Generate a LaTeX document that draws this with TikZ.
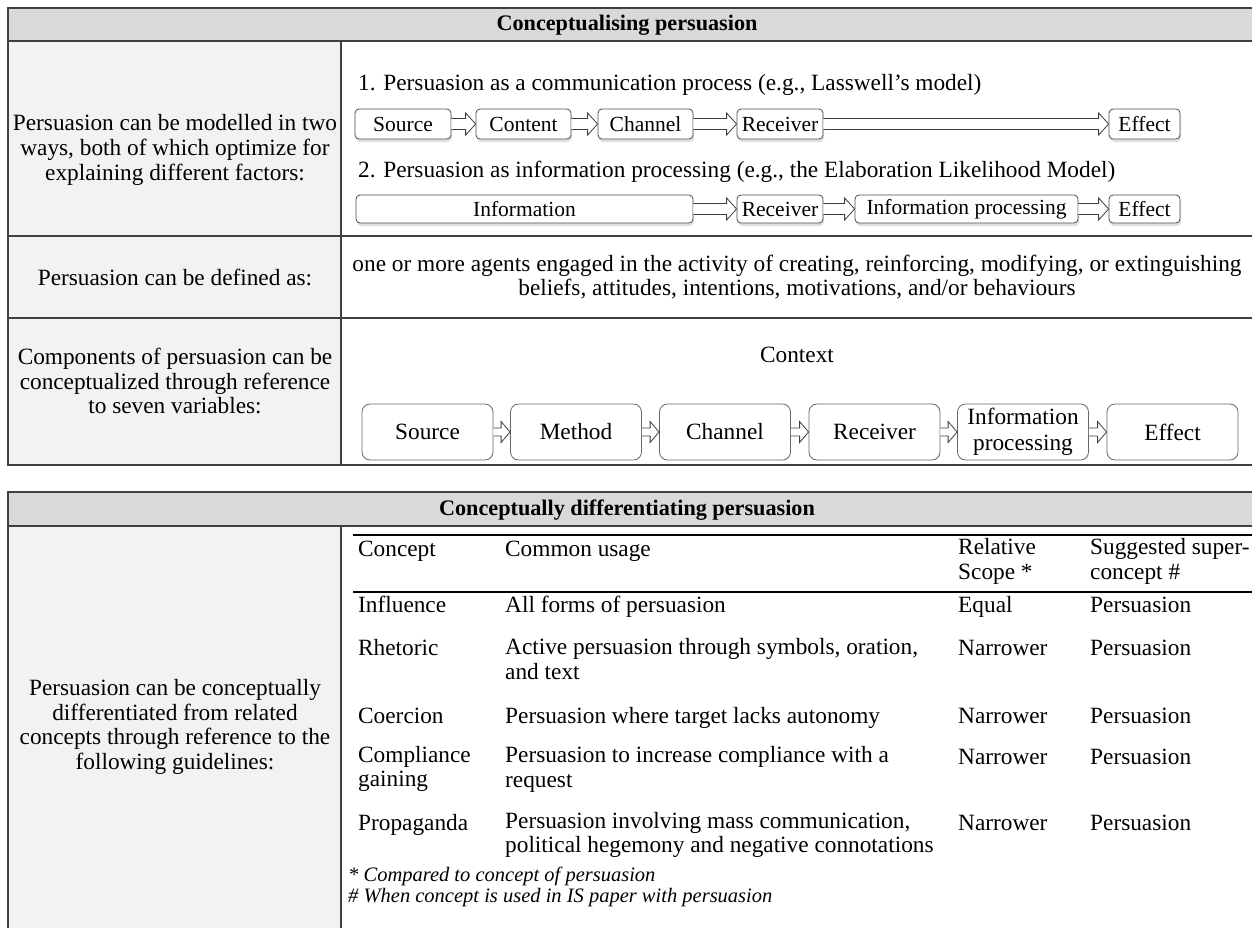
\documentclass[tikz,border=0pt]{standalone}
\usepackage{fontspec}
\setmainfont{Liberation Serif}
\usetikzlibrary{calc,shadows}
\definecolor{hdr}{HTML}{D9D9D9}
\definecolor{leftc}{HTML}{F2F2F2}
\definecolor{frm}{HTML}{404040}
\begin{document}
\begin{tikzpicture}[x=1pt,y=-1pt,
  font=\fontsize{23.3}{24.8}\selectfont,
  frame/.style={draw=frm, line width=1.3pt},
  txt/.style={inner sep=0pt, align=center},
  ltxt/.style={inner sep=0pt, anchor=west, align=left},
  one/.style={ltxt, text height=16pt, text depth=5pt},
  hd/.style={inner sep=0pt, font=\fontsize{22.2}{24.8}\selectfont\bfseries},
  lasbox/.style={draw=black!70, line width=0.8pt, rounded corners=4pt, fill=white, inner sep=0pt,
    minimum height=30pt, font=\fontsize{21.5}{24}\selectfont,
    drop shadow={shadow xshift=1pt, shadow yshift=-3pt, opacity=0.25}},
  varbox/.style={draw=black!60, line width=0.8pt, rounded corners=8pt, fill=white, inner sep=0pt,
    minimum height=56pt, minimum width=131pt, align=center},
  blockarrow/.style n args={3}{draw=black!75, line width=0.8pt, fill=white,
    to path={let \p1=(\tikztostart), \p2=(\tikztotarget) in
      (\x1,\y1+#1) -- (\x2-#3,\y1+#1) -- (\x2-#3,\y1+#2) -- (\x2,\y1)
      -- (\x2-#3,\y1-#2) -- (\x2-#3,\y1-#1) -- (\x1,\y1-#1)}},
  bigarrow/.style={blockarrow={5.5pt}{11pt}{10pt}},
  smallarrow/.style={blockarrow={4pt}{10.5pt}{9pt}},
  foot/.style={inner sep=0pt, anchor=west, font=\fontsize{20.5}{22}\selectfont\itshape}
]
\useasboundingbox (0,0) rectangle (1252,927);

% ---------- top section ----------
\fill[hdr] (8,8) rectangle (1253,41);
\fill[leftc] (8,41) rectangle (341,465);
\draw[frame] (1253,8) -- (8,8) -- (8,465) -- (1253,465);
\draw[frame] (8,41) -- (1253,41);
\draw[frame] (8,236) -- (1253,236);
\draw[frame] (8,318) -- (1253,318);
\draw[frame] (341,41) -- (341,465);

\node[hd] (h1) at (627,25) {Conceptualising persuasion};

\node[txt] (l1) at (175,150) {Persuasion can be modelled in two\\ways, both of which optimize for\\explaining different factors:};
\node[txt] (l2) at (175,277) {Persuasion can be defined as:};
\node[txt] (l3) at (175,381) {Components of persuasion can be\\conceptualized through reference\\to seven variables:};

% row 1
\node[one] (t1) at (358,85) {1. Persuasion as a communication process (e.g., Lasswell’s model)};
\node[one] (t2) at (358,172) {2. Persuasion as information processing (e.g., the Elaboration Likelihood Model)};

\node[lasbox, minimum width=96pt] (a1) at (403,124) {Source};
\node[lasbox, minimum width=95pt] (a2) at (523.5,124) {Content};
\node[lasbox, minimum width=95pt] (a3) at (645.5,124) {Channel};
\node[lasbox, minimum width=86pt] (a4) at (780,124) {Receiver};
\node[lasbox, minimum width=71pt] (a5) at (1144.5,124) {Effect};
\draw[bigarrow] (a1.east) to (a2.west);
\draw[bigarrow] (a2.east) to (a3.west);
\draw[bigarrow] (a3.east) to (a4.west);
\draw[bigarrow] (a4.east) to (a5.west);

\node[lasbox, minimum width=337pt, minimum height=28pt] (b1) at (524.5,209) {Information};
\node[lasbox, minimum width=86pt, minimum height=28pt] (b2) at (780,209) {Receiver};
\node[lasbox, minimum width=223pt, minimum height=28pt] (b3) at (966.5,209) {Information processing};
\node[lasbox, minimum width=71pt, minimum height=28pt] (b4) at (1144.5,209) {Effect};
\draw[bigarrow] (b1.east) to (b2.west);
\draw[bigarrow] (b2.east) to (b3.west);
\draw[bigarrow] (b3.east) to (b4.west);

% row 2
\node[txt] (d1) at (797,277) {one or more agents engaged in the activity of creating, reinforcing, modifying, or extinguishing\\beliefs, attitudes, intentions, motivations, and/or behaviours};

% row 3
\node[txt] (ctx) at (797,355) {Context};
\node[varbox] (v1) at (427.5,432) {Source};
\node[varbox] (v2) at (576,432) {Method};
\node[varbox] (v3) at (725,432) {Channel};
\node[varbox] (v4) at (874.5,432) {Receiver};
\node[varbox] (v5) at (1023,432) {Information\\[1pt]processing};
\node[varbox] (v6) at (1172.5,432) {Effect};
\draw[smallarrow] (v1.east) to (v2.west);
\draw[smallarrow] (v2.east) to (v3.west);
\draw[smallarrow] (v3.east) to (v4.west);
\draw[smallarrow] (v4.east) to (v5.west);
\draw[smallarrow] (v5.east) to (v6.west);

% ---------- bottom section ----------
\fill[hdr] (8,492) rectangle (1253,526);
\fill[leftc] (8,526) rectangle (341,928);
\draw[frame] (1253,492) -- (8,492) -- (8,928);
\draw[frame] (8,526) -- (1253,526);
\draw[frame] (341,526) -- (341,928);

\node[hd] (h2) at (627,510) {Conceptually differentiating persuasion};

\node[txt] (l4) at (175,727) {Persuasion can be conceptually\\differentiated from related\\concepts through reference to the\\following guidelines:};

\draw[line width=2pt] (353,535) -- (1253,535);
\draw[line width=1.5pt] (353,592) -- (1253,592);

% header
\node[one] (c11) at (358,551) {Concept};
\node[one] (c12) at (505,551) {Common usage};
\node[ltxt] (c13) at (958,561) {Relative\\Scope *};
\node[ltxt] (c14) at (1090,561) {Suggested super-\\concept \#};
% rows
\node[one] (r11) at (358,607) {Influence};
\node[one] (r12) at (505,607) {All forms of persuasion};
\node[one] (r13) at (958,607) {Equal};
\node[one] (r14) at (1090,607) {Persuasion};

\node[one] (r21) at (358,650) {Rhetoric};
\node[ltxt] (r22) at (505,659) {Active persuasion through symbols, oration,\\and text};
\node[one] (r23) at (958,650) {Narrower};
\node[one] (r24) at (1090,650) {Persuasion};

\node[one] (r31) at (358,718) {Coercion};
\node[one] (r32) at (505,718) {Persuasion where target lacks autonomy};
\node[one] (r33) at (958,718) {Narrower};
\node[one] (r34) at (1090,718) {Persuasion};

\node[ltxt] (r41) at (358,769) {Compliance\\gaining};
\node[ltxt] (r42) at (505,769) {Persuasion to increase compliance with a\\request};
\node[one] (r43) at (958,759) {Narrower};
\node[one] (r44) at (1090,759) {Persuasion};

\node[one] (r51) at (358,825) {Propaganda};
\node[ltxt] (r52) at (505,835) {Persuasion involving mass communication,\\political hegemony and negative connotations};
\node[one] (r53) at (958,825) {Narrower};
\node[one] (r54) at (1090,825) {Persuasion};

\node[foot] (f1) at (348,876) {* Compared to concept of persuasion};
\node[foot] (f2) at (348,898) {\# When concept is used in IS paper with persuasion};
\end{tikzpicture}
\end{document}
